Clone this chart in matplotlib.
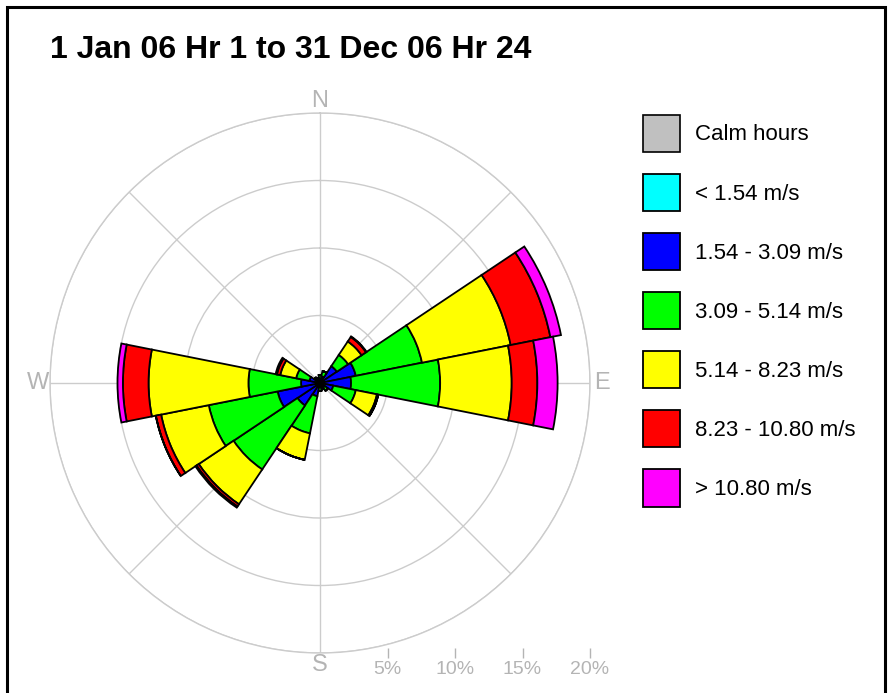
"""wind rose for 2006"""
import numpy as np
import matplotlib.pyplot as plt
from matplotlib.patches import Patch, Rectangle

plt.rcParams['font.family'] = ['Liberation Sans', 'DejaVu Sans']

DIRECTIONS = ["N", "NNE", "NE", "ENE", "E", "ESE", "SE", "SSE",
              "S", "SSW", "SW", "WSW", "W", "WNW", "NW", "NNW"]
SPEED_BINS = ["< 1.54 m/s", "1.54 - 3.09 m/s", "3.09 - 5.14 m/s",
              "5.14 - 8.23 m/s", "8.23 - 10.80 m/s", "> 10.80 m/s"]
BIN_COLORS = ["#00ffff", "#0000ff", "#00ff00", "#ffff00", "#ff0000", "#ff00ff"]
CALM_LABEL = "Calm hours"
CALM_COLOR = "#c0c0c0"

# frequency (%) per direction for each speed bin
CYAN = [0.1, 0.1, 0.1, 0.15, 0.15, 0.1, 0.1, 0.1,
        0.1, 0.1, 0.1, 0.1, 0.1, 0.1, 0.1, 0.1]
BLUE = [0.2, 0.4, 1.4, 2.55, 2.15, 0.9, 0.3, 0.2,
        0.2, 0.9, 1.9, 3.1, 1.3, 0.7, 0.2, 0.1]
GREEN = [0.3, 0.4, 1.0, 5.0, 6.6, 1.7, 0.3, 0.2,
         0.3, 2.8, 5.7, 5.2, 3.9, 1.0, 0.2, 0.2]
YELLOW = [0.0, 0.0, 1.2, 6.7, 5.3, 1.6, 0.0, 0.0,
          0.0, 2.0, 3.1, 3.6, 7.4, 1.2, 0.0, 0.0]
RED = [0.0, 0.0, 0.4, 3.0, 1.9, 0.1, 0.0, 0.0,
       0.0, 0.0, 0.2, 0.4, 1.9, 0.25, 0.0, 0.0]
MAGENTA = [0.0, 0.0, 0.05, 0.8, 1.5, 0.0, 0.0, 0.0,
           0.0, 0.0, 0.1, 0.0, 0.4, 0.1, 0.0, 0.0]

RINGS = [5, 10, 15, 20]
RING_LABELS = ["5%", "10%", "15%", "20%"]
COMPASS = {"N": 0, "E": 90, "S": 180, "W": 270}
GRID_COLOR = "#cccccc"
LABEL_COLOR = "#b4b4b4"


def plot():
    """drawing the rose"""
    fig = plt.figure(figsize=(8.93, 6.93), dpi=100)
    ax = fig.add_axes([50 / 893, 40 / 693, 540 / 893, 540 / 693],
                      projection='polar')
    ax.set_theta_zero_location('N')
    ax.set_theta_direction(-1)

    theta = np.deg2rad(np.arange(len(DIRECTIONS)) * 22.5)
    width = np.deg2rad(22.5)
    bottom = np.zeros(len(DIRECTIONS))
    handles = [Patch(facecolor=CALM_COLOR, edgecolor='black',
                     linewidth=1.2, label=CALM_LABEL)]
    for values, color, label in zip([CYAN, BLUE, GREEN, YELLOW, RED, MAGENTA],
                                    BIN_COLORS, SPEED_BINS):
        vals = np.array(values)
        bars = ax.bar(theta, vals, width=width, bottom=bottom, color=color,
                      edgecolor='black', linewidth=1.3, label=label,
                      zorder=3)
        handles.append(bars)
        bottom = bottom + vals

    ax.set_rlim(0, 20)
    ax.set_rticks(RINGS)
    ax.set_yticklabels([])
    ax.set_thetagrids(np.arange(0, 360, 45), labels=[""] * 8)
    ax.grid(True, color=GRID_COLOR, linewidth=1)
    ax.spines['polar'].set_color(GRID_COLOR)
    ax.spines['polar'].set_linewidth(1)
    ax.tick_params(length=0)

    for name, angle in COMPASS.items():
        ax.text(np.deg2rad(angle), 20.9, name, color=LABEL_COLOR,
                fontsize=17, ha='center', va='center')

    # percentage scale under the rose
    scale = fig.add_axes([320 / 893, 45 / 693, 270 / 893, 0.001])
    scale.set_xlim(0, 20)
    scale.set_xticks(RINGS)
    scale.set_xticklabels(RING_LABELS)
    scale.set_yticks([])
    for spine in scale.spines.values():
        spine.set_visible(False)
    scale.tick_params(axis='x', colors=LABEL_COLOR, length=7, width=1,
                      labelsize=14, pad=2)
    scale.patch.set_visible(False)

    fig.legend(handles=handles, loc='upper left',
               bbox_to_anchor=(643 / 893, 1 - 115 / 693),
               frameon=False, fontsize=16, handlelength=1.67,
               handleheight=2.19, labelspacing=0.99, handletextpad=0.68,
               borderpad=0, borderaxespad=0)

    fig.text(50 / 893, 1 - 50 / 693, "1 Jan 06 Hr 1 to 31 Dec 06 Hr 24",
             fontsize=23, fontweight='bold', ha='left', va='center')

    fig.add_artist(Rectangle((7 / 893, -0.05), 878 / 893, 1.05 - 7 / 693,
                             transform=fig.transFigure, fill=False,
                             edgecolor='black', linewidth=2.2))
    fig.savefig('out.png', dpi=100)


plot()
